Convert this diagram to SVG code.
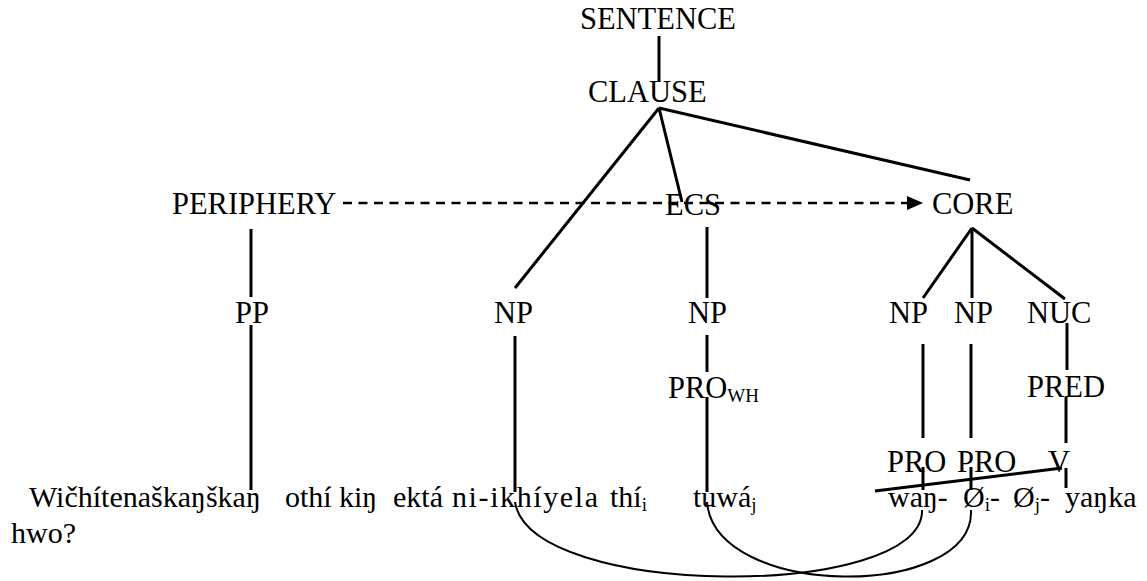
<svg xmlns="http://www.w3.org/2000/svg" width="1147" height="581" viewBox="0 0 1147 581">
<style>
text { font-family: "Liberation Serif", "Times New Roman", serif; font-size: 30.5px; fill: #000; }
.w { font-size: 30px; }
.sub { font-size: 19px; }
.t { stroke: #000; stroke-width: 3; fill: none; }
.d { stroke: #000; stroke-width: 2.5; stroke-dasharray: 9 6.5; fill: none; }
.a { stroke: #000; stroke-width: 2; fill: none; }
</style>
<defs>
<marker id="ah" markerWidth="16" markerHeight="14" refX="0" refY="7" orient="auto" markerUnits="userSpaceOnUse">
<path d="M0,0 L16,7 L0,14 Z" fill="#000"/>
</marker>
</defs>
<rect width="1147" height="581" fill="#fff"/>
<g id="connectors">
<line class="t" x1="659" y1="36" x2="659" y2="82"/>
<line class="t" x1="659" y1="108" x2="515" y2="288"/>
<line class="t" x1="659" y1="108" x2="682" y2="202"/>
<line class="t" x1="659" y1="108" x2="970" y2="180"/>
<line class="d" x1="343" y1="203" x2="907" y2="203" marker-end="url(#ah)"/>
<line class="t" x1="251" y1="229" x2="251" y2="297"/>
<line class="t" x1="251" y1="325" x2="251" y2="490"/>
<line class="t" x1="707" y1="227" x2="707" y2="298"/>
<line class="t" x1="707" y1="335" x2="707" y2="372"/>
<line class="t" x1="707" y1="397" x2="707" y2="492"/>
<line class="t" x1="515" y1="336" x2="515" y2="492"/>
<line class="t" x1="972" y1="228" x2="923" y2="298"/>
<line class="t" x1="972" y1="228" x2="972" y2="298"/>
<line class="t" x1="972" y1="228" x2="1065" y2="299"/>
<line class="t" x1="923" y1="344" x2="923" y2="438"/>
<line class="t" x1="971" y1="344" x2="971" y2="438"/>
<line class="t" x1="1067" y1="323" x2="1067" y2="370"/>
<line class="t" x1="1066" y1="397" x2="1066" y2="443"/>
<line class="t" x1="923" y1="467" x2="923" y2="490"/>
<line class="t" x1="971" y1="467" x2="971" y2="490"/>
<line class="t" x1="1066" y1="468" x2="1066" y2="488"/>
<line class="t" x1="875" y1="491" x2="1062" y2="468"/>
<path class="a" d="M515,502 C530,600 925,600 922,510"/>
<path class="a" d="M707,502 C715,600 975,600 971,510"/>
</g>
<g id="sentence"><text x="580" y="29">SENTENCE</text></g>
<g id="clause"><text x="588" y="102">CLAUSE</text></g>
<g id="periphery"><text x="172" y="214">PERIPHERY</text></g>
<g id="ecs"><text x="665" y="215">ECS</text></g>
<g id="core"><text x="932" y="214">CORE</text></g>
<g id="pp"><text x="235" y="323">PP</text></g>
<g id="np1"><text x="494" y="323">NP</text></g>
<g id="np2"><text x="688" y="323">NP</text></g>
<g id="np3"><text x="889" y="323">NP</text></g>
<g id="np4"><text x="954" y="323">NP</text></g>
<g id="nuc"><text x="1027" y="323">NUC</text></g>
<g id="prowh"><text x="668" y="398">PRO<tspan class="sub" dy="4">WH</tspan></text></g>
<g id="pred"><text x="1027" y="397">PRED</text></g>
<g id="pro1"><text x="887" y="472">PRO</text></g>
<g id="pro2"><text x="957" y="472">PRO</text></g>
<g id="v"><text x="1048" y="472">V</text></g>
<g id="words">
<text class="w" x="29" y="507">Wičhítenaškaŋškaŋ</text>
<text class="w" x="285" y="507">othí</text>
<text class="w" x="339" y="507">kiŋ</text>
<text class="w" x="393" y="507">ektá</text>
<text class="w" x="452" y="507" textLength="146" lengthAdjust="spacing">ni-ikhíyela</text>
<text class="w" x="610" y="507">thí<tspan class="sub" dy="4">i</tspan></text>
<text class="w" x="693" y="507">tuwá<tspan class="sub" dy="4">j</tspan></text>
<text class="w" x="888" y="507">waŋ-</text>
<text class="w" x="963" y="507">Ø<tspan class="sub" dy="4">i</tspan><tspan dy="-4">-</tspan></text>
<text class="w" x="1013" y="507">Ø<tspan class="sub" dy="4">j</tspan><tspan dy="-4">-</tspan></text>
<text class="w" x="1065" y="507">yaŋka</text>
<text class="w" x="11" y="543">hwo?</text>
</g>
</svg>
